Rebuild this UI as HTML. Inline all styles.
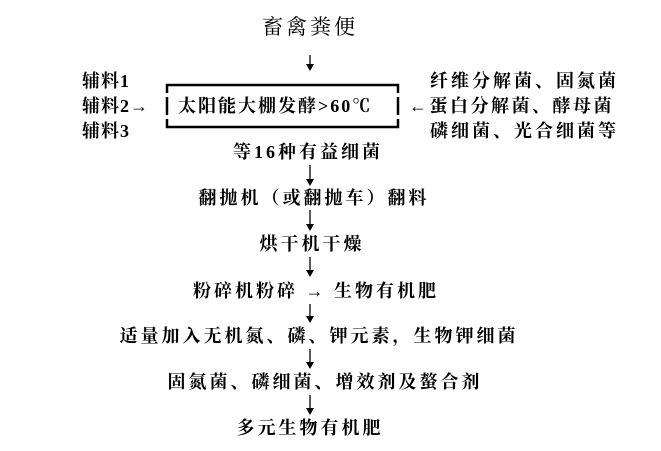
<!DOCTYPE html>
<html><head><meta charset="utf-8"><style>
body{margin:0;background:#fff;width:661px;height:451px;position:relative;overflow:hidden;font-family:"Liberation Serif","Noto Serif CJK SC",serif;font-weight:bold;color:#000}
.t{position:absolute;font-size:18px;line-height:20px;white-space:nowrap;letter-spacing:3px}
.c{transform:translateX(-50%)}
svg{position:absolute;left:0;top:0}
</style></head><body>
<svg width="661" height="451">
<g stroke="#000" stroke-width="1.3" fill="none">
<line x1="310" y1="55" x2="310" y2="68"/>
<line x1="310" y1="165" x2="310" y2="183"/>
<line x1="310" y1="210" x2="310" y2="228"/>
<line x1="310" y1="257" x2="310" y2="274"/>
<line x1="310" y1="304" x2="310" y2="320"/>
<line x1="310" y1="349" x2="310" y2="366"/>
<line x1="310" y1="395" x2="310" y2="412"/>
</g>
<g fill="#000">
<path d="M306,64 L314,64 L310,71 Z"/>
<path d="M306,179 L314,179 L310,186 Z"/>
<path d="M306,224 L314,224 L310,231 Z"/>
<path d="M306,270 L314,270 L310,277 Z"/>
<path d="M306,316 L314,316 L310,323 Z"/>
<path d="M306,362 L314,362 L310,369 Z"/>
<path d="M306,408 L314,408 L310,415 Z"/>
</g>
<g stroke="#000" stroke-width="2.5" fill="none">
<path d="M167,93 V85 H398 V93"/>
<path d="M167,119 V127 H398 V119"/>
<line x1="167" y1="97" x2="167" y2="115"/>
<line x1="398" y1="97" x2="398" y2="115"/>
</g>
</svg>
<div class="t c" style="left:310px;top:17px;font-size:21px;font-weight:normal;letter-spacing:3px">畜禽粪便</div>
<div class="t" style="left:82px;top:71px;letter-spacing:1px">辅料1</div>
<div class="t" style="left:82px;top:96px;letter-spacing:1px">辅料2→</div>
<div class="t" style="left:82px;top:121px;letter-spacing:1px">辅料3</div>
<div class="t" style="left:178px;top:96px;letter-spacing:2px">太阳能大棚发酵&gt;60℃</div>
<div class="t" style="left:430px;top:71px">纤维分解菌、固氮菌</div>
<div class="t" style="left:409px;top:96px;letter-spacing:2.5px">←蛋白分解菌、酵母菌</div>
<div class="t" style="left:430px;top:121px">磷细菌、光合细菌等</div>
<div class="t c" style="left:308px;top:142px">等16种有益细菌</div>
<div class="t c" style="left:314px;top:188px">翻抛机（或翻抛车）翻料</div>
<div class="t c" style="left:312px;top:234px">烘干机干燥</div>
<div class="t" style="left:193px;top:281px">粉碎机粉碎&nbsp;→&nbsp;生物有机肥</div>
<div class="t c" style="left:319px;top:326px">适量加入无机氮、磷、钾元素，生物钾细菌</div>
<div class="t c" style="left:325px;top:372px">固氮菌、磷细菌、增效剂及螯合剂</div>
<div class="t c" style="left:310px;top:418px">多元生物有机肥</div>
</body></html>
